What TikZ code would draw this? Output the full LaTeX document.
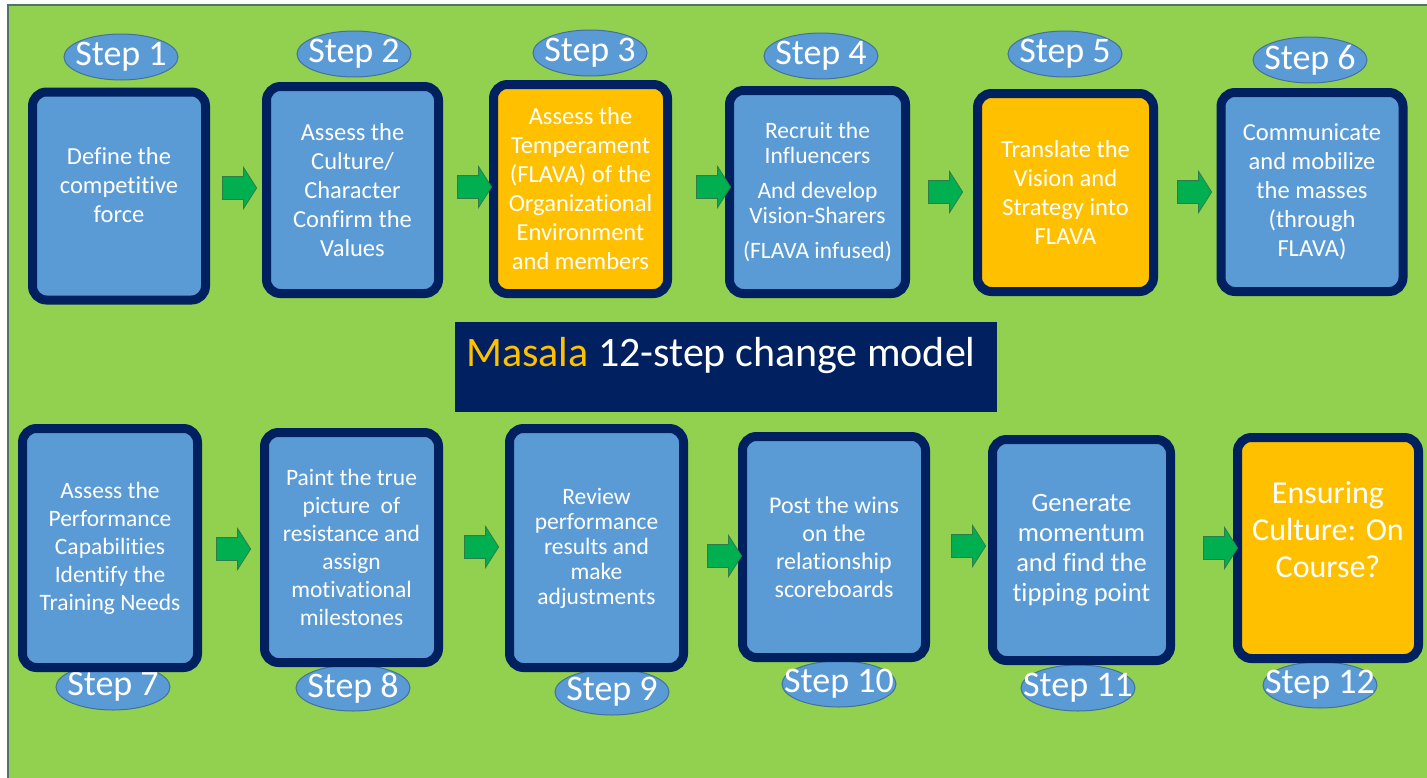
\documentclass[tikz,border=0pt]{standalone}
\usepackage{fontspec}
\setmainfont{Carlito}[Ligatures=NoCommon]
\usetikzlibrary{shapes.geometric,shapes.arrows}
\definecolor{bggreen}{HTML}{92D050}
\definecolor{framegray}{HTML}{4F7568}
\definecolor{boxblue}{HTML}{5B9BD5}
\definecolor{navyb}{HTML}{002060}
\definecolor{hilite}{HTML}{FFC000}
\definecolor{ovalline}{HTML}{41719C}
\definecolor{arrgreen}{HTML}{00B050}
\definecolor{arrline}{HTML}{2E7D4A}
\tikzset{
  stepbox/.style={draw=navyb, line width=9pt, rounded corners=14pt, fill=boxblue, inner sep=0pt},
  keybox/.style={stepbox, fill=hilite},
  stepoval/.style={ellipse, fill=boxblue, draw=ovalline, line width=1pt, minimum width=114pt,
    minimum height=46pt, inner sep=0pt,
    label={[text=white, inner sep=0pt, font=\fontsize{36}{36}\selectfont]center:#1}},
  boxtext/.style={text=white, align=center, inner sep=0pt, font=\fontsize{24.5}{29}\selectfont},
  lowtext/.style={boxtext, font=\fontsize{23.5}{28}\selectfont},
  flowarrow/.style={single arrow, fill=arrgreen, draw=arrline, line width=0.8pt,
    inner xsep=0pt, inner ysep=11pt, minimum height=34pt, single arrow head extend=9pt,
    single arrow tip angle=115, single arrow head indent=0pt},
}
\begin{document}
\begin{tikzpicture}[x=1pt,y=-1pt]
\useasboundingbox (0,0) rectangle (1427,777);
\fill[white] (0,0) rectangle (1427,777);
\filldraw[fill=bggreen, draw=framegray, line width=1.5pt] (8,5) rectangle (1440,790);

% step labels (drawn first: the lower boxes overlap them)
\node[stepoval={Step 1}] (e1) at (121,57) {};
\node[stepoval={Step 2}] (e2) at (354,54) {};
\node[stepoval={Step 3}] (e3) at (590,53) {};
\node[stepoval={Step 4}] (e4) at (821,56) {};
\node[stepoval={Step 5}] (e5) at (1065,54) {};
\node[stepoval={Step 6}] (e6) at (1310,60) {};
\node[stepoval={Step 7}] (e7) at (113,687) {};
\node[stepoval={Step 8}] (e8) at (353,688) {};
\node[stepoval={Step 9}] (e9) at (612,692) {};
\node[stepoval={Step 10}] (e10) at (839,684) {};
\node[stepoval={Step 11}] (e11) at (1078,688) {};
\node[stepoval={Step 12}] (e12) at (1320,685) {};

% upper row of steps
\node[stepbox, minimum width=173pt, minimum height=208pt] (b1) at (119,196) {};
\node[stepbox, minimum width=172pt, minimum height=207pt] (b2) at (352.5,190) {};
\node[keybox, minimum width=174pt, minimum height=209pt] (b3) at (580.5,189) {};
\node[stepbox, minimum width=176pt, minimum height=203pt] (b4) at (817.5,192) {};
\node[keybox, minimum width=176pt, minimum height=198pt] (b5) at (1065.5,192.5) {};
\node[stepbox, minimum width=182pt, minimum height=199pt] (b6) at (1312,192) {};

% lower row of steps
\node[stepbox, minimum width=175pt, minimum height=239pt] (b7) at (110,548) {};
\node[stepbox, minimum width=174pt, minimum height=230pt] (b8) at (351.5,547.5) {};
\node[stepbox, minimum width=174pt, minimum height=239pt] (b9) at (596.5,548) {};
\node[stepbox, minimum width=183pt, minimum height=221pt] (b10) at (834,547) {};
\node[stepbox, minimum width=178pt, minimum height=221pt] (b11) at (1081.5,550) {};
\node[keybox, minimum width=181pt, minimum height=221pt] (b12) at (1328,548) {};

% step descriptions
\node[boxtext] (t1) at ([yshift=11pt]b1.center) {Define the\\competitive\\force};
\node[boxtext] (t2) at (b2.center) {Assess the\\Culture/\\Character\\Confirm the\\Values};
\node[boxtext] (t3) at (b3.center) {Assess the\\Temperament\\(FLAVA) of the\\Organizational\\Environment\\and members};
\node[boxtext, font=\fontsize{23.5}{25}\selectfont] (t4) at (b4.center)
  {Recruit the\\Influencers\\[10pt]And develop\\Vision-Sharers\\[10pt](FLAVA infused)};
\node[boxtext] (t5) at (b5.center) {Translate the\\Vision and\\Strategy into\\FLAVA};
\node[boxtext] (t6) at (b6.center) {Communicate\\and mobilize\\the masses\\(through\\FLAVA)};
\node[lowtext] (t7) at (b7.center) {Assess the\\Performance\\Capabilities\\Identify the\\Training Needs};
\node[lowtext] (t8) at (b8.center) {Paint the true\\picture~ of\\resistance and\\assign\\motivational\\milestones};
\node[lowtext, font=\fontsize{23.5}{25}\selectfont] (t9) at (b9.center) {Review\\performance\\results and\\make\\adjustments};
\node[lowtext, font=\fontsize{24}{28}\selectfont] (t10) at (b10.center) {Post the wins\\on the\\relationship\\scoreboards};
\node[lowtext, font=\fontsize{26.5}{30}\selectfont] (t11) at (b11.center) {Generate\\momentum\\and find the\\tipping point};
\node[lowtext, font=\fontsize{32}{37}\selectfont] (t12) at ([yshift=18pt]b12.center) {Ensuring\\Culture: On\\Course?};

% block arrows between consecutive steps
\node[flowarrow] (a1) at (236,188) {};
\node[flowarrow] (a2) at (471,187) {};
\node[flowarrow] (a3) at (710,187) {};
\node[flowarrow] (a4) at (942,192) {};
\node[flowarrow] (a5) at (1191,192) {};
\node[flowarrow] (a6) at (230,549) {};
\node[flowarrow] (a7) at (478,547) {};
\node[flowarrow] (a8) at (721,556) {};
\node[flowarrow] (a9) at (965,546) {};
\node[flowarrow] (a10) at (1217,548) {};

% title banner
\node[fill=navyb, minimum width=542pt, minimum height=90pt, inner sep=0pt] (title) at (726,367) {};
\node[anchor=base west, inner sep=0pt, text=white, font=\fontsize{42}{42}\selectfont] (titletext) at (466,366)
  {\textcolor{hilite}{Masala} 12-step change model};
\end{tikzpicture}
\end{document}
